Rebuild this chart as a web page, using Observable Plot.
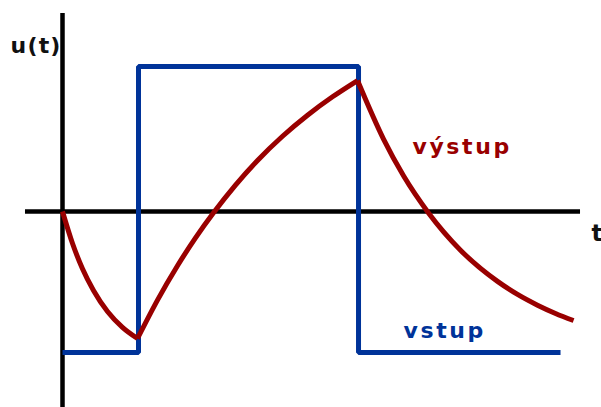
<!DOCTYPE html>
<html>
<head>
<meta charset="utf-8">
<script src="https://cdn.jsdelivr.net/npm/d3@7"></script>
<script src="https://cdn.jsdelivr.net/npm/@observablehq/plot@0.6"></script>
<style>
  html, body { margin: 0; padding: 0; background: #fff; }
</style>
</head>
<body>
<div id="chart"></div>
<script>
// Input (vstup): square wave corners, time vs level
const inputT = [0, 1, 3.895, 6.553];
const inputU = [-0.972, 1, -0.972, -0.972];

// Output (výstup): points, three segments
const outSeg = [1,1,1,1,1,1,1,
                2,2,2,2,2,2,2,2,2,2,2,
                3,3,3,3,3,3,3,3,3,3];
const outT = [0, 0.132, 0.263, 0.408, 0.592, 0.789, 0.987,
              0.987, 1.25, 1.513, 1.75, 1.987, 2.276, 2.566, 2.895, 3.224, 3.553, 3.882,
              3.882, 4.224, 4.487, 4.816, 5.237, 5.724, 5.987, 6.25, 6.487, 6.724];
const outU = [0, -0.221, -0.395, -0.545, -0.69, -0.799, -0.876,
              -0.876, -0.611, -0.374, -0.182, -0.009, 0.182, 0.352, 0.519, 0.664, 0.791, 0.903,
              0.903, 0.499, 0.246, -0.01, -0.267, -0.482, -0.572, -0.646, -0.703, -0.752];

// Text labels
const labelText = ["u(t)", "t", "výstup", "vstup"];
const labelT = [-0.684, 6.96, 4.605, 4.487];
const labelU = [1.09, -0.2, 0.4, -0.869];

const input = inputT.map((t, i) => ({t, u: inputU[i]}));
const output = outT.map((t, i) => ({t, u: outU[i], seg: outSeg[i]}));
const labels = labelText.map((s, i) => ({s, t: labelT[i], u: labelU[i]}));

const BLUE = "#003399";
const RED = "#990000";
const FONT = "DejaVu Sans";

const chart = Plot.plot({
  width: 601,
  height: 407,
  margin: 0,
  style: {fontFamily: FONT, background: "#fff"},
  x: {domain: [0, 1], range: [62, 138], axis: null},
  y: {domain: [0, 1], range: [211, 66], axis: null},
  marks: [
    Plot.ruleY([0], {x1: -0.487, x2: 6.816, stroke: "#000", strokeWidth: 4.5}),
    Plot.ruleX([0], {y1: -1.36, y2: 1.366, stroke: "#000", strokeWidth: 4.5}),
    Plot.line(input, {x: "t", y: "u", curve: "step-after", stroke: BLUE, strokeWidth: 5,
      strokeLinejoin: "miter", strokeLinecap: "butt"}),
    Plot.line(output, {x: "t", y: "u", z: "seg", curve: "monotone-x", stroke: RED, strokeWidth: 5,
      strokeLinejoin: "miter", strokeLinecap: "butt"}),
    Plot.text(labels, {x: "t", y: "u", text: "s", textAnchor: "start", lineAnchor: "bottom",
      fontSize: d => d.s === "t" ? 23 : 22, fontWeight: "bold",
      fill: d => d.s === "výstup" ? RED : d.s === "vstup" ? BLUE : "#111"})
  ]
});

d3.select(chart).selectAll("text").each(function() {
  const s = this.textContent;
  const ls = (s === "výstup" || s === "vstup") ? 2.6 : (s === "u(t)" ? 1.2 : 0);
  d3.select(this).attr("letter-spacing", ls);
});

document.getElementById("chart").appendChild(chart);
</script>
</body>
</html>
